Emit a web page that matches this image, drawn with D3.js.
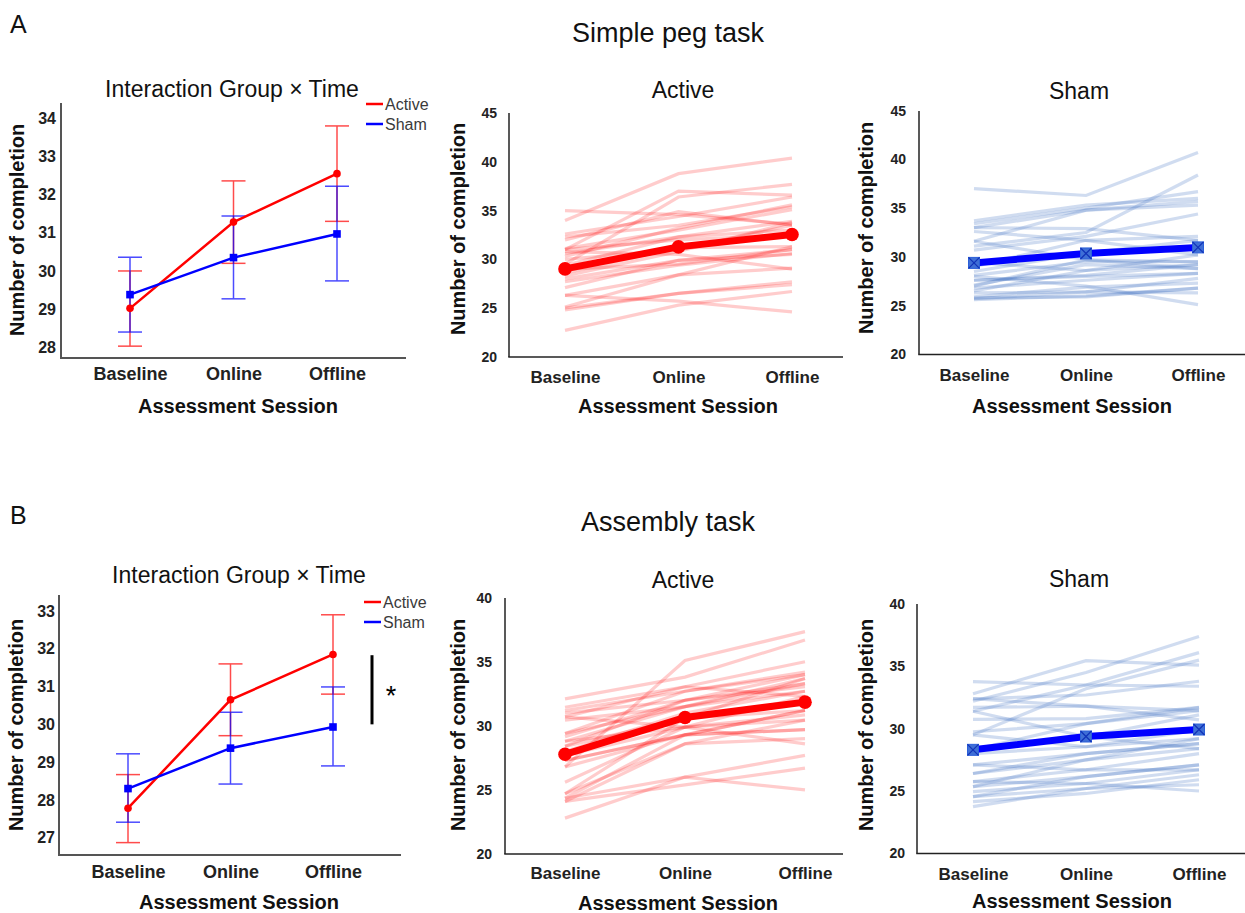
<!DOCTYPE html>
<html>
<head>
<meta charset="utf-8">
<script src="https://cdn.jsdelivr.net/npm/d3@7"></script>
<style>
  body { margin: 0; background: #fff; }
  svg { display: block; }
</style>
</head>
<body>
<script>
// session labels
const sessions = ["Baseline", "Online", "Offline"];

// Simple peg task, interaction means and error bars
const pegActiveMean = [29.02, 31.28, 32.55];
const pegActiveLow = [28.03, 30.2, 31.3];
const pegActiveHigh = [30.0, 32.36, 33.8];
const pegShamMean = [29.38, 30.35, 30.97];
const pegShamLow = [28.4, 29.27, 29.74];
const pegShamHigh = [30.36, 31.44, 32.22];

// Assembly task, interaction means and error bars
const asmActiveMean = [27.78, 30.65, 31.85];
const asmActiveLow = [26.87, 29.7, 30.8];
const asmActiveHigh = [28.67, 31.6, 32.9];
const asmShamMean = [28.3, 29.37, 29.93];
const asmShamLow = [27.41, 28.42, 28.9];
const asmShamHigh = [29.22, 30.32, 30.99];
const asmSigBar = [30.0, 31.83];

// tick values
const pegInteractionTicks = [28, 29, 30, 31, 32, 33, 34];
const asmInteractionTicks = [27, 28, 29, 30, 31, 32, 33];
const pegSubjectTicks = [20, 25, 30, 35, 40, 45];
const asmSubjectTicks = [20, 25, 30, 35, 40];

// individual subjects [Baseline, Online, Offline]
const pegActiveSubjects = [
    [34.0, 38.8, 40.4], [35.0, 34.6, 33.6], [31.0, 37.0, 36.6], [29.5, 36.4, 37.7],
    [32.6, 34.4, 36.4], [32.3, 33.5, 35.4], [32.0, 34.9, 33.5], [31.1, 33.0, 35.1],
    [30.6, 32.3, 33.9], [30.0, 31.0, 33.5], [29.4, 32.3, 33.0], [28.6, 31.2, 31.3],
    [28.0, 29.9, 31.0], [27.7, 29.4, 30.6], [27.1, 29.9, 30.5], [26.3, 28.4, 29.1],
    [25.1, 28.4, 31.3], [24.8, 26.5, 27.4], [22.7, 25.3, 26.7], [26.3, 25.7, 24.6],
    [29.0, 29.5, 31.0], [30.8, 30.5, 29.0], [25.0, 26.5, 27.7], [31.0, 32.0, 32.5],
    [28.3, 30.8, 33.8], [30.3, 33.2, 35.6]
];
const pegShamSubjects = [
    [37.0, 36.3, 40.7], [31.1, 32.5, 38.4], [33.7, 35.3, 36.0], [33.4, 35.0, 36.7],
    [33.0, 34.8, 35.3], [31.6, 34.8, 35.7], [30.7, 32.1, 34.4], [32.6, 31.7, 32.1],
    [33.0, 32.9, 31.7], [29.0, 31.7, 30.2], [28.5, 30.4, 31.7], [28.1, 29.5, 29.5],
    [27.6, 28.1, 29.2], [27.1, 29.2, 28.8], [26.8, 27.6, 28.3], [26.3, 26.4, 27.8],
    [25.9, 26.9, 27.3], [25.6, 26.0, 26.8], [25.7, 26.4, 26.3], [28.0, 27.0, 25.1],
    [29.4, 28.6, 30.2], [27.6, 28.0, 28.3], [25.8, 25.9, 26.8], [26.5, 28.6, 29.2],
    [31.6, 29.7, 28.8], [27.0, 29.7, 29.5]
];
const asmActiveSubjects = [
    [26.8, 35.1, 37.35], [32.1, 33.8, 36.7], [31.45, 33.05, 35.0], [31.2, 32.7, 34.2],
    [31.0, 32.0, 33.3], [30.7, 33.05, 32.3], [30.45, 31.5, 33.7], [29.4, 32.7, 34.0],
    [29.15, 32.0, 33.05], [28.8, 31.5, 32.7], [28.4, 30.6, 31.2], [27.7, 29.9, 30.85],
    [27.3, 29.3, 31.2], [25.6, 29.9, 32.3], [24.7, 28.6, 30.45], [24.35, 29.3, 29.7],
    [24.1, 28.6, 29.0], [22.8, 26.0, 27.7], [24.1, 25.4, 26.7], [24.35, 26.0, 25.0],
    [28.8, 29.9, 28.6], [26.8, 29.3, 29.7], [29.4, 31.5, 33.3], [28.4, 32.0, 34.0],
    [30.7, 29.9, 30.45], [24.7, 30.6, 33.7], [27.3, 29.3, 31.2], [28.0, 31.0, 32.7]
];
const asmShamSubjects = [
    [32.2, 34.5, 37.4], [32.8, 35.45, 35.1], [31.4, 33.5, 36.1], [29.5, 33.2, 35.5],
    [33.77, 33.5, 33.4], [32.4, 32.7, 33.8], [32.4, 31.8, 30.7], [30.75, 30.8, 31.7],
    [29.75, 30.4, 31.45], [28.3, 29.35, 31.1], [28.0, 28.55, 29.2], [27.1, 28.0, 28.8],
    [26.4, 27.5, 28.4], [25.75, 26.7, 28.0], [25.35, 26.15, 27.1], [24.95, 25.6, 26.7],
    [24.55, 25.2, 26.3], [24.15, 24.8, 25.9], [23.75, 25.2, 25.5], [25.75, 25.6, 25.0],
    [29.5, 28.55, 29.9], [31.7, 31.8, 31.45], [26.4, 28.0, 28.8], [27.1, 26.7, 26.7],
    [28.3, 30.4, 31.7], [24.55, 26.15, 27.1], [31.4, 29.35, 28.4], [25.35, 27.5, 29.2]
];

const FONT = "'Liberation Sans', Arial, Helvetica, sans-serif";
const W = 1245, H = 913;

const svg = d3.select("body")
    .append("svg")
    .attr("width", W)
    .attr("height", H)
    .attr("font-family", FONT);

// helpers
function zip(m, lo, hi) {
    return sessions.map((s, i) => ({ s: s, m: m[i], lo: lo[i], hi: hi[i] }));
}

function drawAxes(c, x, y, ticks) {
    const g = svg.append("g");
    // axis lines
    g.append("line")
        .attr("x1", c.x0).attr("x2", c.x0)
        .attr("y1", c.top).attr("y2", c.bottom)
        .attr("stroke", c.axisColor).attr("stroke-width", c.axisWidth);
    g.append("line")
        .attr("x1", c.x0 - c.axisWidth / 2).attr("x2", c.x1)
        .attr("y1", c.bottom).attr("y2", c.bottom)
        .attr("stroke", c.axisColor).attr("stroke-width", c.axisWidth);

    // y tick labels
    const yg = g.append("g")
        .attr("transform", `translate(${c.x0},0)`)
        .call(d3.axisLeft(y).tickValues(ticks).tickFormat(d3.format("d")).tickSize(0).tickPadding(c.yPad));
    yg.select(".domain").remove();
    yg.attr("font-family", FONT).attr("font-size", c.yTickSize);
    yg.selectAll("text").attr("font-weight", "bold").attr("fill", "#222");

    // x tick labels
    const pad = c.xTickBase - c.bottom - 0.71 * c.xTickSize;
    const xg = g.append("g")
        .attr("transform", `translate(0,${c.bottom})`)
        .call(d3.axisBottom(x).tickSize(0).tickPadding(pad));
    xg.select(".domain").remove();
    xg.attr("font-family", FONT).attr("font-size", c.xTickSize);
    xg.selectAll("text").attr("font-weight", "bold").attr("fill", "#222");

    // axis titles
    g.append("text")
        .attr("x", c.xTitleX).attr("y", c.xTitleY)
        .attr("text-anchor", "middle")
        .attr("font-size", 20).attr("font-weight", "bold").attr("fill", "#111")
        .text("Assessment Session");
    g.append("text")
        .attr("transform", `translate(${c.yTitleX},${c.yTitleY}) rotate(-90)`)
        .attr("text-anchor", "middle")
        .attr("font-size", 20).attr("font-weight", "bold").attr("fill", "#111")
        .text("Number of completion");

    // panel title
    g.append("text")
        .attr("x", c.titleX).attr("y", c.titleY)
        .attr("text-anchor", "middle")
        .attr("font-size", c.titleSize).attr("fill", "#111")
        .text(c.title);
}

function drawInteraction(c) {
    const x = d3.scalePoint().domain(sessions).range(c.xs);
    const y = d3.scaleLinear().domain(c.yDomain).range(c.yRange);
    drawAxes(c, x, y, c.ticks);

    const g = svg.append("g");
    const line = d3.line().x(d => x(d.s)).y(d => y(d.m));
    const cap = 12;

    c.series.forEach(sr => {
        const eb = g.append("g")
            .attr("stroke", sr.color).attr("stroke-width", 1.5).attr("opacity", 0.7);
        sr.data.forEach(d => {
            eb.append("line")
                .attr("x1", x(d.s)).attr("x2", x(d.s))
                .attr("y1", y(d.lo)).attr("y2", y(d.hi));
            eb.append("line")
                .attr("x1", x(d.s) - cap).attr("x2", x(d.s) + cap)
                .attr("y1", y(d.lo)).attr("y2", y(d.lo));
            eb.append("line")
                .attr("x1", x(d.s) - cap).attr("x2", x(d.s) + cap)
                .attr("y1", y(d.hi)).attr("y2", y(d.hi));
        });
    });

    c.series.forEach(sr => {
        g.append("path")
            .datum(sr.data)
            .attr("fill", "none")
            .attr("stroke", sr.color)
            .attr("stroke-width", 2.5)
            .attr("d", line);
        if (sr.marker === "circle") {
            g.selectAll(null).data(sr.data).enter().append("circle")
                .attr("cx", d => x(d.s)).attr("cy", d => y(d.m))
                .attr("r", 3.8).attr("fill", sr.color);
        } else {
            g.selectAll(null).data(sr.data).enter().append("rect")
                .attr("x", d => x(d.s) - 3.8).attr("y", d => y(d.m) - 3.8)
                .attr("width", 7.6).attr("height", 7.6).attr("fill", sr.color);
        }
    });

    // legend
    const lg = svg.append("g");
    c.series.forEach((sr, i) => {
        const ly = c.legendY + i * c.legendGap;
        lg.append("line")
            .attr("x1", c.legendX).attr("x2", c.legendX + 17)
            .attr("y1", ly).attr("y2", ly)
            .attr("stroke", sr.color).attr("stroke-width", 2.5);
        lg.append("text")
            .attr("x", c.legendX + 19).attr("y", ly + 6)
            .attr("font-size", 16).attr("fill", "#3a3a3a")
            .text(sr.name);
    });

    // significance bar
    if (c.sig) {
        g.append("line")
            .attr("x1", c.sigX).attr("x2", c.sigX)
            .attr("y1", y(c.sig[0])).attr("y2", y(c.sig[1]))
            .attr("stroke", "#000").attr("stroke-width", 3);
        g.append("text")
            .attr("x", c.sigX + 19).attr("y", (y(c.sig[0]) + y(c.sig[1])) / 2 + 15)
            .attr("text-anchor", "middle")
            .attr("font-size", 27).attr("fill", "#000")
            .text("*");
    }
}

function drawSubjects(c) {
    const x = d3.scalePoint().domain(sessions).range(c.xs);
    const y = d3.scaleLinear().domain(c.yDomain).range(c.yRange);
    drawAxes(c, x, y, c.ticks);

    const g = svg.append("g");
    const line = d3.line().x((d, i) => x(sessions[i])).y(d => y(d));

    g.selectAll(null).data(c.subjects).enter().append("path")
        .attr("fill", "none")
        .attr("stroke", c.lightColor)
        .attr("stroke-opacity", c.lightOpacity)
        .attr("stroke-width", 3.2)
        .attr("d", line);

    g.append("path")
        .datum(c.mean)
        .attr("fill", "none")
        .attr("stroke", c.color)
        .attr("stroke-width", 7)
        .attr("d", line);

    if (c.marker === "circle") {
        g.selectAll(null).data(c.mean).enter().append("circle")
            .attr("cx", (d, i) => x(sessions[i])).attr("cy", d => y(d))
            .attr("r", 6.8).attr("fill", c.color);
    } else {
        const s = 5.5;
        const mk = g.selectAll(null).data(c.mean).enter().append("g")
            .attr("transform", (d, i) => `translate(${x(sessions[i])},${y(d)})`);
        mk.append("rect")
            .attr("x", -s).attr("y", -s).attr("width", 2 * s).attr("height", 2 * s)
            .attr("fill", "#3f6fd6").attr("stroke", "#2b5fd9").attr("stroke-width", 1);
        mk.append("path")
            .attr("d", `M${-s},${-s}L${s},${s}M${s},${-s}L${-s},${s}`)
            .attr("stroke", "#1233b8").attr("stroke-width", 1.3);
    }
}

// shared style for the two panel kinds
const interStyle = { axisColor: "#555", axisWidth: 2, yTickSize: 16, xTickSize: 18, titleSize: 23, title: "Interaction Group \u00d7 Time" };
const subjStyle = { axisColor: "#222", axisWidth: 1.5, yTickSize: 14, xTickSize: 17, titleSize: 23 };

// Row A
drawInteraction(Object.assign({}, interStyle, {
    x0: 61, x1: 406, top: 103, bottom: 358, xs: [130, 337],
    yDomain: [28, 34], yRange: [347.3, 118.3], ticks: pegInteractionTicks, yPad: 5,
    xTickBase: 379.5, xTitleX: 238, xTitleY: 413, yTitleX: 24, yTitleY: 230,
    titleX: 232, titleY: 97,
    legendX: 366, legendY: 104, legendGap: 20,
    series: [
        { name: "Active", color: "#ff0000", marker: "circle", data: zip(pegActiveMean, pegActiveLow, pegActiveHigh) },
        { name: "Sham", color: "#0000ff", marker: "square", data: zip(pegShamMean, pegShamLow, pegShamHigh) }
    ]
}));

drawSubjects(Object.assign({}, subjStyle, {
    x0: 509, x1: 843, top: 113, bottom: 357, xs: [565, 792],
    yDomain: [20, 45], yRange: [356.7, 113.3], ticks: pegSubjectTicks, yPad: 12,
    xTickBase: 383, xTitleX: 678, xTitleY: 413, yTitleX: 465, yTitleY: 229,
    title: "Active", titleX: 683, titleY: 98,
    subjects: pegActiveSubjects, mean: pegActiveMean,
    lightColor: "#ff0000", lightOpacity: 0.2, color: "#ff0000", marker: "circle"
}));

drawSubjects(Object.assign({}, subjStyle, {
    x0: 919, x1: 1245, top: 111, bottom: 354.5, xs: [974, 1198],
    yDomain: [20, 45], yRange: [354.3, 110.7], ticks: pegSubjectTicks, yPad: 13,
    xTickBase: 380.5, xTitleX: 1072, xTitleY: 413, yTitleX: 873, yTitleY: 228,
    title: "Sham", titleX: 1079, titleY: 99,
    subjects: pegShamSubjects, mean: pegShamMean,
    lightColor: "#4472c4", lightOpacity: 0.25, color: "#0000ff", marker: "square"
}));

// Row B
drawInteraction(Object.assign({}, interStyle, {
    x0: 59, x1: 401, top: 595, bottom: 855, xs: [128, 333],
    yDomain: [27, 33], yRange: [837.7, 611], ticks: asmInteractionTicks, yPad: 4,
    xTickBase: 878, xTitleX: 239, xTitleY: 909, yTitleX: 23, yTitleY: 725,
    titleX: 239, titleY: 583,
    legendX: 364, legendY: 602, legendGap: 20,
    sig: asmSigBar, sigX: 372,
    series: [
        { name: "Active", color: "#ff0000", marker: "circle", data: zip(asmActiveMean, asmActiveLow, asmActiveHigh) },
        { name: "Sham", color: "#0000ff", marker: "square", data: zip(asmShamMean, asmShamLow, asmShamHigh) }
    ]
}));

drawSubjects(Object.assign({}, subjStyle, {
    x0: 505, x1: 843, top: 598, bottom: 854, xs: [565, 805],
    yDomain: [20, 40], yRange: [854, 597.7], ticks: asmSubjectTicks, yPad: 13,
    xTickBase: 879, xTitleX: 678, xTitleY: 910, yTitleX: 465, yTitleY: 725,
    title: "Active", titleX: 683, titleY: 588,
    subjects: asmActiveSubjects, mean: asmActiveMean,
    lightColor: "#ff0000", lightOpacity: 0.2, color: "#ff0000", marker: "circle"
}));

drawSubjects(Object.assign({}, subjStyle, {
    x0: 917, x1: 1245, top: 604, bottom: 853.5, xs: [973, 1199],
    yDomain: [20, 40], yRange: [853.3, 604], ticks: asmSubjectTicks, yPad: 12,
    xTickBase: 880, xTitleX: 1072, xTitleY: 908, yTitleX: 873, yTitleY: 725,
    title: "Sham", titleX: 1079, titleY: 587,
    subjects: asmShamSubjects, mean: asmShamMean,
    lightColor: "#4472c4", lightOpacity: 0.25, color: "#0000ff", marker: "square"
}));

// figure headers
svg.append("text").attr("x", 10).attr("y", 33)
    .attr("font-size", 25).attr("fill", "#111").text("A");
svg.append("text").attr("x", 668).attr("y", 42)
    .attr("text-anchor", "middle").attr("font-size", 27).attr("fill", "#111")
    .text("Simple peg task");
svg.append("text").attr("x", 10).attr("y", 524)
    .attr("font-size", 25).attr("fill", "#111").text("B");
svg.append("text").attr("x", 668).attr("y", 531)
    .attr("text-anchor", "middle").attr("font-size", 27).attr("fill", "#111")
    .text("Assembly task");
</script>
</body>
</html>
